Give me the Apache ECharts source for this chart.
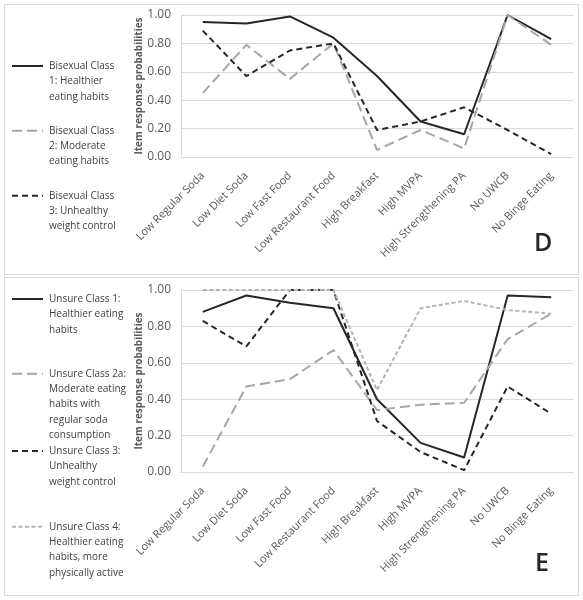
<!DOCTYPE html>
<html>
<head>
<meta charset="utf-8">
<script src="https://cdn.jsdelivr.net/npm/echarts@6/dist/echarts.min.js"></script>
<style>
html,body{margin:0;padding:0;background:#fff;}
#chart{width:583px;height:600px;}
</style>
</head>
<body>
<div id="chart"></div>
<script>
var categories = ['Low Regular Soda','Low Diet Soda','Low Fast Food','Low Restaurant Food','High Breakfast','High MVPA','High Strengthening PA','No UWCB','No Binge Eating'];
var yTicks = [0, 0.2, 0.4, 0.6, 0.8, 1.0];

// Panel D
var bisexualClass1 = [0.95,0.94,0.99,0.84,0.57,0.25,0.16,1.00,0.83];
var bisexualClass2 = [0.45,0.79,0.55,0.80,0.05,0.19,0.06,1.00,0.79];
var bisexualClass3 = [0.89,0.57,0.75,0.80,0.19,0.25,0.35,0.19,0.02];
var legendD = [
  'Bisexual Class\n1: Healthier\neating habits',
  'Bisexual Class\n2: Moderate\neating habits',
  'Bisexual Class\n3: Unhealthy\nweight control'
];

// Panel E
var unsureClass1 = [0.88,0.97,0.93,0.90,0.40,0.16,0.08,0.97,0.96];
var unsureClass2a = [0.03,0.47,0.51,0.67,0.34,0.37,0.38,0.73,0.87];
var unsureClass3 = [0.83,0.69,1.00,1.00,0.28,0.11,0.01,0.47,0.32];
var unsureClass4 = [1.00,1.00,1.00,1.00,0.45,0.90,0.94,0.89,0.87];
var legendE = [
  'Unsure Class 1:\nHealthier eating\nhabits',
  'Unsure Class 2a:\nModerate eating\nhabits with\nregular soda\nconsumption',
  'Unsure Class 3:\nUnhealthy\nweight control',
  'Unsure Class 4:\nHealthier eating\nhabits, more\nphysically active'
];

var FONT = '"Open Sans", "Noto Sans", sans-serif';
var styles = {
  solid: {color:'#262626', type:'solid', width:2},
  longDash: {color:'#a6a6a6', type:[10,5], width:2},
  dash: {color:'#262626', type:[6,4], width:2},
  shortDash: {color:'#b4b4b4', type:[4,2.5], width:2}
};

function mkGrid(top, height){
  return {left:181, right:10, top:top, height:height, containLabel:false};
}
function mkX(idx){
  return {
    type:'category', gridIndex:idx, data:categories, boundaryGap:true,
    axisLine:{show:true, lineStyle:{color:'#d9d9d9', width:1}},
    axisTick:{show:false},
    axisLabel:{interval:0, rotate:45, margin:17, fontSize:11, color:'#595959', fontFamily:FONT}
  };
}
function mkY(idx){
  return {
    type:'value', gridIndex:idx, min:0, max:1, interval:0.2,
    name:'Item response probabilities', nameLocation:'middle', nameGap:37, nameMoveOverlap:false,
    nameTextStyle:{fontSize:10, fontWeight:'bold', color:'#595959', fontFamily:FONT},
    axisLine:{show:true, lineStyle:{color:'#d9d9d9', width:1}},
    axisTick:{show:false},
    splitLine:{show:true, lineStyle:{color:'#d9d9d9', width:1}},
    axisLabel:{margin:10, fontSize:12, color:'#595959', fontFamily:FONT,
      formatter:function(v){return v.toFixed(2);}}
  };
}
function mkSeries(name, data, idx, st){
  return {
    name:name, type:'line', xAxisIndex:idx, yAxisIndex:idx, data:data,
    symbol:'none', smooth:false, animation:false,
    lineStyle:{color:st.color, type:st.type, width:st.width, cap:'butt'},
    itemStyle:{color:st.color}
  };
}

var graphics = [];
// panel borders
graphics.push({type:'rect', shape:{x:4.5, y:4.5, width:574, height:270}, style:{fill:'none', stroke:'#d9d9d9', lineWidth:1}, silent:true});
graphics.push({type:'rect', shape:{x:4.5, y:277.5, width:574, height:318}, style:{fill:'none', stroke:'#d9d9d9', lineWidth:1}, silent:true});

function legendItem(y, text, st){
  graphics.push({type:'line', shape:{x1:12, y1:y, x2:43, y2:y},
    style:{stroke:st.color, lineWidth:st.width, lineDash:(st.type==='solid'?null:st.type)}, silent:true});
  graphics.push({type:'text', x:49, y:y-7.7, style:{text:text, font:'10px ' + FONT, fill:'#404040',
    lineHeight:15.4, verticalAlign:'top', align:'left'}, silent:true});
}
legendItem(66, legendD[0], styles.solid);
legendItem(130.7, legendD[1], styles.longDash);
legendItem(195.7, legendD[2], styles.dash);
legendItem(299, legendE[0], styles.solid);
legendItem(373.7, legendE[1], styles.longDash);
legendItem(451, legendE[2], styles.dash);
legendItem(526.7, legendE[3], styles.shortDash);

graphics.push({type:'text', x:534, y:231, style:{text:'D', font:'600 25px ' + FONT, fill:'#262626', verticalAlign:'top'}, silent:true});
graphics.push({type:'text', x:535, y:551, style:{text:'E', font:'600 25px ' + FONT, fill:'#262626', verticalAlign:'top'}, silent:true});

var chart = echarts.init(document.getElementById('chart'), null, {renderer:'canvas'});
chart.setOption({
  animation:false,
  backgroundColor:'#ffffff',
  textStyle:{fontFamily:FONT},
  grid:[mkGrid(15,142), mkGrid(290,182)],
  xAxis:[mkX(0), mkX(1)],
  yAxis:[mkY(0), mkY(1)],
  series:[
    mkSeries('Bisexual Class 1: Healthier eating habits', bisexualClass1, 0, styles.solid),
    mkSeries('Bisexual Class 2: Moderate eating habits', bisexualClass2, 0, styles.longDash),
    mkSeries('Bisexual Class 3: Unhealthy weight control', bisexualClass3, 0, styles.dash),
    mkSeries('Unsure Class 1: Healthier eating habits', unsureClass1, 1, styles.solid),
    mkSeries('Unsure Class 2a: Moderate eating habits with regular soda consumption', unsureClass2a, 1, styles.longDash),
    mkSeries('Unsure Class 3: Unhealthy weight control', unsureClass3, 1, styles.dash),
    mkSeries('Unsure Class 4: Healthier eating habits, more physically active', unsureClass4, 1, styles.shortDash)
  ],
  graphic:graphics
});
</script>
</body>
</html>
